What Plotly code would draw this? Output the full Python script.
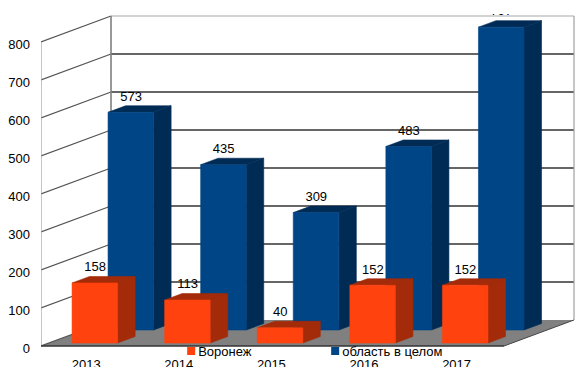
import plotly.graph_objects as go

years = ["2013", "2014", "2015", "2016", "2017"]
voronezh = [158, 113, 40, 152, 152]
oblast = [573, 435, 309, 483, 797]
y_ticks = [0, 100, 200, 300, 400, 500, 600, 700, 800]
series_names = ["Воронеж", "область в целом"]

FONT = "Liberation Sans"
ORANGE, ORANGE_DK = "#ff420e", "#a32b09"
BLUE, BLUE_DK = "#004586", "#002b55"

# oblique projection: depth 0 = front of floor, 1 = back wall
DX, DY = 0.756, 68.4
XMIN, XMAX = -0.5, 4.5
PX_X = 92.6
PX_Y = 0.38
LABEL_UP = 15 / PX_Y


def proj(x, d, v):
    return x + d * DX, v + d * DY


def faces(values, d0, d1, x0):
    front, side, top = ([], []), ([], []), ([], [])
    w = 0.492
    for i, v in enumerate(values):
        l, r = i + x0, i + x0 + w
        quads = [
            (front, [(l, d0, 0), (r, d0, 0), (r, d0, v), (l, d0, v)]),
            (side, [(r, d0, 0), (r, d1, 0), (r, d1, v), (r, d0, v)]),
            (top, [(l, d0, v), (r, d0, v), (r, d1, v), (l, d1, v)]),
        ]
        for tgt, q in quads:
            pts = [proj(*p) for p in q]
            pts.append(pts[0])
            tgt[0].extend([p[0] for p in pts] + [None])
            tgt[1].extend([p[1] for p in pts] + [None])
    return front, side, top


def poly(xy, color):
    return go.Scatter(x=xy[0], y=xy[1], mode="lines", fill="toself", fillcolor=color,
                      line=dict(color=color, width=0.6), hoverinfo="skip", showlegend=False)


fig = go.Figure()
SERIES = [(oblast, 0.615, 0.865, -0.2408, BLUE, BLUE_DK),
          (voronezh, 0.115, 0.365, -0.2516, ORANGE, ORANGE_DK)]
for vals, d0, d1, x0, col, dk in SERIES:
    f, s, t = faces(vals, d0, d1, x0)
    fig.add_trace(poly(s, dk))
    fig.add_trace(poly(t, dk))
    fig.add_trace(poly(f, col))

for vals, d0, d1, x0, col, dk in SERIES:
    fig.add_trace(go.Scatter(
        x=[proj(i + x0 + 0.2485, d0, v)[0] for i, v in enumerate(vals)],
        y=[proj(0, d0, v)[1] + LABEL_UP for v in vals],
        text=[str(v) for v in vals], mode="text", textposition="middle center",
        textfont=dict(family=FONT, size=13, color="#000000"),
        hoverinfo="skip", showlegend=False))

fig.add_trace(go.Scatter(
    x=[i - 0.012 for i in range(len(years))], y=[-52] * len(years), text=years,
    mode="text", textposition="middle center",
    textfont=dict(family=FONT, size=13, color="#000000"),
    hoverinfo="skip", showlegend=False))

for name, col in zip(series_names, [ORANGE, BLUE]):
    fig.add_trace(go.Scatter(x=[None], y=[None], mode="markers", name=name,
                             marker=dict(symbol="square", size=8, color=col)))

shapes = []


def seg(p, q, color, width):
    shapes.append(dict(type="line", xref="x", yref="y", layer="below",
                       x0=p[0], y0=p[1], x1=q[0], y1=q[1],
                       line=dict(color=color, width=width)))


# floor
fx = [proj(XMIN, 0, 0), proj(XMAX, 0, 0), proj(XMAX, 1, 0), proj(XMIN, 1, 0)]
shapes.append(dict(type="path", xref="x", yref="y", layer="below",
                   path="M" + " L".join(f"{a},{b}" for a, b in fx) + " Z",
                   fillcolor="#808080", line=dict(width=0)))
top = y_ticks[-1]
for v in y_ticks:
    seg(proj(XMIN, 0, v), proj(XMIN, 1, v), "#555555", 1.2)
    if v > 0:
        seg(proj(XMIN, 1, v), proj(XMAX, 1, v), "#a8a8a8" if v == top else "#666666",
            1.2 if v == top else 2)
seg(proj(XMIN, 0, 0), proj(XMIN, 0, top), "#a0a0a0", 1.2)
seg(proj(XMIN, 1, 0), proj(XMIN, 1, top), "#808080", 1.6)
seg(proj(XMAX, 1, 0), proj(XMAX, 1, top), "#a0a0a0", 1.2)
seg(proj(XMIN, 0, 0), proj(XMAX, 0, 0), "#333333", 1.4)
seg(proj(XMAX, 0, 0), proj(XMAX, 1, 0), "#444444", 1.0)

W, H = 585, 387
L, T, B = 41, 14, 20
fig.update_layout(
    width=W, height=H, autosize=False,
    margin=dict(l=L, r=0, t=T, b=B, pad=0),
    paper_bgcolor="white", plot_bgcolor="white",
    shapes=shapes,
    font=dict(family=FONT, size=13, color="#000000"),
    showlegend=True,
    legend=dict(orientation="h", x=126 / W, xanchor="left", y=1 - 353 / H, yanchor="top",
                bgcolor="rgba(0,0,0,0)", entrywidth=99, entrywidthmode="pixels",
                font=dict(family=FONT, size=13), itemclick=False, itemdoubleclick=False),
    xaxis=dict(range=[XMIN, XMIN + (W - L) / PX_X], visible=False, fixedrange=True),
    yaxis=dict(range=[(346 - (H - B)) / PX_Y, (346 - T) / PX_Y], tickmode="array",
               tickvals=y_ticks, ticktext=[str(v) for v in y_ticks], showgrid=False,
               zeroline=False, showline=False, ticks="", ticklabelstandoff=10,
               ticklabelshift=2,
               tickfont=dict(family=FONT, size=13, color="#000000"), fixedrange=True),
)
fig.write_html("out.html", config={"displayModeBar": False},
               post_script="document.body.style.margin='0';document.documentElement.style.overflow='hidden';"
                           "document.querySelectorAll('.legendsymbols').forEach(function(g){g.setAttribute('transform','translate(13,0)');});")
